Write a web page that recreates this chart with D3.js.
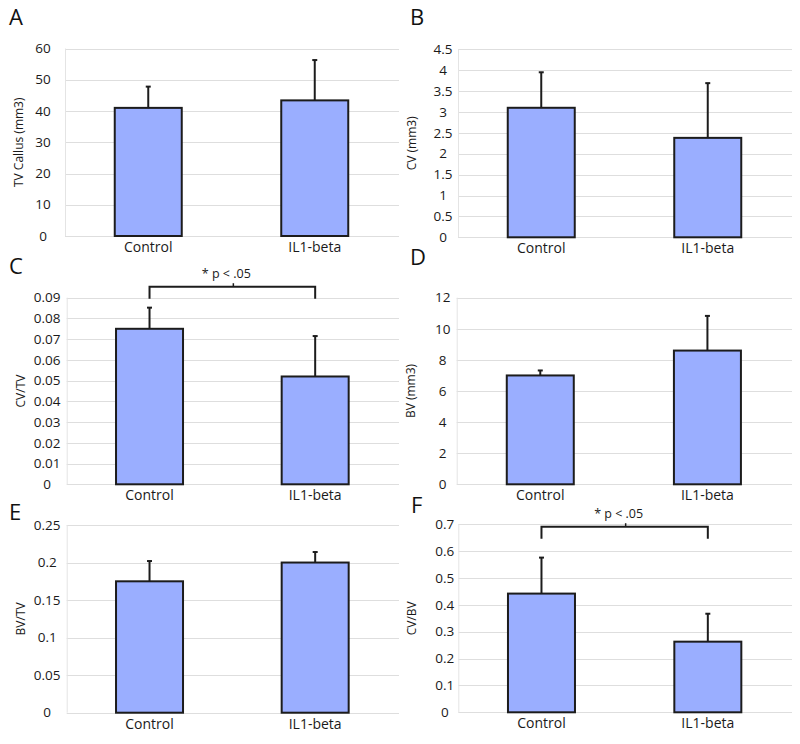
<!DOCTYPE html>
<html lang="en">
<head>
    <meta charset="utf-8">
    <title>TV, CV and BV by group</title>
    <script src="https://cdn.jsdelivr.net/npm/d3@7"></script>
    <style>
        body { margin: 0; background: #fff; }
        svg { display: block; font-family: "Open Sans", sans-serif; }
    </style>
</head>
<body>
<svg id="chart"></svg>
<script>
    // values
    const categories = ["Control", "IL1-beta"];
    const panelLetters = ["A", "B", "C", "D", "E", "F"];
    const yTitles = ["TV Callus (mm3)", "CV (mm3)", "CV/TV", "BV (mm3)", "BV/TV", "CV/BV"];
    const yMax = [60, 4.5, 0.09, 12, 0.25, 0.7];
    const yStep = [10, 0.5, 0.01, 2, 0.05, 0.1];
    const means = [
        [41.0, 43.4],
        [3.10, 2.38],
        [0.075, 0.052],
        [7.0, 8.6],
        [0.175, 0.200],
        [0.442, 0.263]
    ];
    const errors = [
        [6.8, 12.9],
        [0.85, 1.31],
        [0.0102, 0.0195],
        [0.32, 2.23],
        [0.027, 0.014],
        [0.134, 0.104]
    ];
    const sigLabels = [null, null, "* p < .05", null, null, "* p < .05"];
    const sigLevel = [null, null, 0.0953, null, null, 0.691];

    // plot boxes for each panel [left, top, right, bottom]
    const boxes = [
        [65, 48.5, 399, 236],
        [458, 49.3, 792, 237.3],
        [66.7, 297.7, 399, 484.3],
        [456.7, 297.7, 792, 484.3],
        [66.7, 525, 399, 712.7],
        [458.3, 524.3, 792, 712.3]
    ];
    const tickOffset = [22, 15, 19.5, 14, 19.5, 13.5];
    const letterPos = [[9, 25], [410, 25], [9, 274], [410, 265], [9, 520], [411, 513]];

    const width = 800, height = 744;
    const barWidth = 67;
    const barFill = "#9aaeff";
    const ink = "#1c1c1c";

    const svg = d3.select("#chart").attr("width", width).attr("height", height);

    panelLetters.forEach((letter, i) => {
        const [left, top, right, bottom] = boxes[i];
        const g = svg.append("g");

        const x = d3.scalePoint()
            .domain(categories)
            .range([left, right - 1])
            .padding(0.5);

        const y = d3.scaleLinear()
            .domain([0, yMax[i]])
            .range([bottom, top]);

        const ticks = d3.range(0, yMax[i] + yStep[i] / 2, yStep[i]);
        const fmt = d => String(+d.toFixed(3));

        // gridlines
        g.append("g")
            .selectAll("line")
            .data(ticks)
            .join("line")
            .attr("x1", left)
            .attr("x2", right)
            .attr("y1", d => Math.round(y(d)) + 0.5)
            .attr("y2", d => Math.round(y(d)) + 0.5)
            .attr("stroke", "#dedede")
            .attr("stroke-width", 1);

        g.append("line")
            .attr("x1", left + 0.5).attr("x2", left + 0.5)
            .attr("y1", top).attr("y2", bottom)
            .attr("stroke", "#e4e4e4");

        // tick labels
        g.append("g")
            .selectAll("text")
            .data(ticks)
            .join("text")
            .attr("x", left - tickOffset[i])
            .attr("y", d => y(d))
            .attr("dy", "0.35em")
            .attr("text-anchor", "middle")
            .attr("font-size", "13.5px")
            .attr("fill", "#1a1a1a")
            .text(fmt);

        // y title
        g.append("text")
            .attr("transform", `translate(${left - 42},${(top + bottom) / 2}) rotate(-90)`)
            .attr("text-anchor", "middle")
            .attr("font-size", "12px")
            .attr("fill", "#1a1a1a")
            .text(yTitles[i]);

        // bars
        const rows = categories.map((c, j) => ({cat: c, mean: means[i][j], err: errors[i][j]}));

        g.append("g")
            .selectAll("rect")
            .data(rows)
            .join("rect")
            .attr("x", d => x(d.cat) - barWidth / 2)
            .attr("y", d => y(d.mean))
            .attr("width", barWidth)
            .attr("height", d => bottom - y(d.mean))
            .attr("fill", barFill)
            .attr("stroke", ink)
            .attr("stroke-width", 2);

        // error bars (upper only)
        const eb = g.append("g").attr("stroke", ink).attr("stroke-width", 2);
        eb.selectAll("line.stem")
            .data(rows)
            .join("line")
            .attr("class", "stem")
            .attr("x1", d => x(d.cat))
            .attr("x2", d => x(d.cat))
            .attr("y1", d => y(d.mean))
            .attr("y2", d => y(d.mean + d.err));
        eb.selectAll("line.cap")
            .data(rows)
            .join("line")
            .attr("class", "cap")
            .attr("x1", d => x(d.cat) - 2.5)
            .attr("x2", d => x(d.cat) + 2.5)
            .attr("y1", d => y(d.mean + d.err))
            .attr("y2", d => y(d.mean + d.err));

        // category labels
        g.append("g")
            .selectAll("text")
            .data(categories)
            .join("text")
            .attr("x", d => x(d))
            .attr("y", bottom + 16)
            .attr("text-anchor", "middle")
            .attr("font-size", "14px")
            .attr("fill", "#1a1a1a")
            .text(d => d);

        // panel letter
        g.append("text")
            .attr("x", letterPos[i][0])
            .attr("y", letterPos[i][1])
            .attr("font-size", "22px")
            .attr("fill", "#111")
            .text(letter);

        // significance bracket
        if (sigLabels[i]) {
            const x0 = x(categories[0]), x1 = x(categories[1]);
            const by = y(sigLevel[i]);
            const mid = (x0 + x1) / 2;
            g.append("path")
                .attr("d", `M${x0},${by + 12}V${by}H${x1}V${by + 12}`)
                .attr("fill", "none")
                .attr("stroke", ink)
                .attr("stroke-width", 2);
            g.append("line")
                .attr("x1", mid + 1).attr("x2", mid + 1)
                .attr("y1", by).attr("y2", by - 3.5)
                .attr("stroke", ink)
                .attr("stroke-width", 1.5);
            g.append("text")
                .attr("x", mid - 6)
                .attr("y", by - 8.5)
                .attr("text-anchor", "middle")
                .attr("font-size", "12.5px")
                .attr("fill", "#1a1a1a")
                .text(sigLabels[i]);
        }
    });
</script>
</body>
</html>
